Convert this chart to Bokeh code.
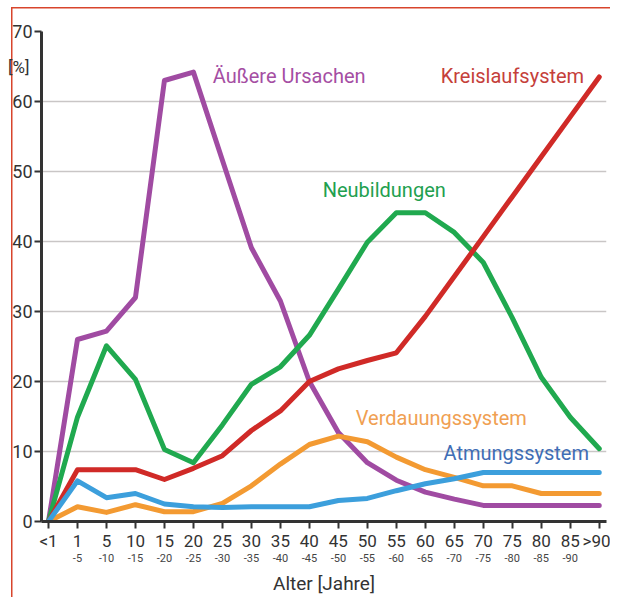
from bokeh.plotting import figure
from bokeh.models import Range1d, LinearAxis, FixedTicker, Label
from bokeh.embed import file_html
from bokeh.resources import INLINE

# ---- data -------------------------------------------------------------
categories = ["<1", "1", "5", "10", "15", "20", "25", "30", "35", "40",
              "45", "50", "55", "60", "65", "70", "75", "80", "85", ">90"]
sub_labels = ["", "-5", "-10", "-15", "-20", "-25", "-30", "-35", "-40", "-45",
              "-50", "-55", "-60", "-65", "-70", "-75", "-80", "-85", "-90", ""]

aeussere_ursachen = [0, 26, 27.2, 32, 63, 64.2, 51.6, 39.1, 31.5, 20,
                     12.7, 8.4, 5.9, 4.2, 3.2, 2.3, 2.3, 2.3, 2.3, 2.3]
neubildungen = [0, 14.9, 25.1, 20.3, 10.3, 8.4, 13.8, 19.6, 22.1, 26.6,
                33.2, 39.9, 44.1, 44.1, 41.3, 37, 29.1, 20.6, 14.9, 10.4]
kreislaufsystem = [0, 7.4, 7.4, 7.4, 6.0, 7.6, 9.4, 13, 15.8, 20,
                   21.8, 23, 24.1, 29.3, 35, 40.7, 46.4, 52.1, 57.8, 63.5]
verdauungssystem = [0, 2.1, 1.3, 2.4, 1.4, 1.4, 2.6, 5.1, 8.2, 11,
                    12.2, 11.4, 9.2, 7.4, 6.3, 5.1, 5.1, 4.0, 4.0, 4.0]
atmungssystem = [0, 5.8, 3.4, 4.0, 2.5, 2.1, 2.0, 2.1, 2.1, 2.1,
                 3.0, 3.3, 4.4, 5.4, 6.1, 7.0, 7.0, 7.0, 7.0, 7.0]

y_ticks = [0, 10, 20, 30, 40, 50, 60, 70]
unit_tick = [65]
unit_text = "[%]"

series = [
    ("Äußere Ursachen", aeussere_ursachen, "#a04ba2", "#a54ea3", 5.67, 63.7),
    ("Neubildungen", neubildungen, "#20a94f", "#22a04f", 9.46, 47.4),
    ("Kreislaufsystem", kreislaufsystem, "#d02a27", "#c5403a", 13.53, 63.7),
    ("Verdauungssystem", verdauungssystem, "#f39a32", "#f0a052", 10.6, 14.8),
    ("Atmungssystem", atmungssystem, "#3c9fdc", "#3f6db5", 13.63, 9.8),
]

FONT = "Roboto"
DARK = "#333333"

x = list(range(len(categories)))

p = figure(frame_width=565, frame_height=490,
           min_border_left=41, min_border_top=31, min_border_right=4,
           min_border_bottom=60,
           x_range=Range1d(-0.241, 19.25), y_range=Range1d(0, 70),
           output_backend="svg", toolbar_location=None,
           border_fill_color=None, background_fill_color="white",
           outline_line_color=None,
           styles={"background":
                   "linear-gradient(#d8452c,#d8452c) 11px 7px/1.5px 100% no-repeat,"
                   "linear-gradient(#d8452c,#d8452c) 11px 7px/100% 1.5px no-repeat"})

# grid
p.xgrid.visible = False
p.ygrid.ticker = FixedTicker(ticks=y_ticks[1:])
p.ygrid.grid_line_color = "#c9c6c6"
p.ygrid.grid_line_width = 1.5

# y axis
ya = p.yaxis[0]
ya.ticker = FixedTicker(ticks=y_ticks)
ya.axis_line_color = DARK
ya.axis_line_width = 3
ya.major_tick_line_color = DARK
ya.major_tick_line_width = 2
ya.major_tick_out = 7
ya.major_tick_in = 0
ya.minor_tick_line_color = None
ya.major_label_text_font = FONT
ya.major_label_text_font_size = "18px"
ya.major_label_text_color = DARK
ya.major_label_standoff = 2

# y unit "[%]" as a second, tick-less left axis
yu = LinearAxis(ticker=FixedTicker(ticks=unit_tick),
                major_label_overrides={unit_tick[0]: unit_text})
yu.axis_line_color = None
yu.major_tick_line_color = None
yu.minor_tick_line_color = None
yu.major_tick_out = 0
yu.major_tick_in = 0
yu.major_label_standoff = -20
yu.major_label_text_font = FONT
yu.major_label_text_font_size = "17px"
yu.major_label_text_color = DARK
p.add_layout(yu, "left")

# x axis (main labels)
xa = p.xaxis[0]
xa.ticker = FixedTicker(ticks=x)
xa.major_label_overrides = {i: c for i, c in zip(x, categories)}
xa.axis_line_color = DARK
xa.axis_line_width = 3
xa.major_tick_line_color = DARK
xa.major_tick_line_width = 2
xa.major_tick_out = 7
xa.major_tick_in = 0
xa.minor_tick_line_color = None
xa.major_label_text_font = FONT
xa.major_label_text_font_size = "17px"
xa.major_label_text_color = DARK
xa.major_label_standoff = 2

# x axis (sub labels + title)
xb = LinearAxis(ticker=FixedTicker(ticks=x),
                major_label_overrides={i: s for i, s in zip(x, sub_labels)})
xb.axis_line_color = None
xb.major_tick_line_color = None
xb.minor_tick_line_color = None
xb.major_tick_out = 0
xb.major_tick_in = 0
xb.major_label_standoff = 0
xb.major_label_text_font = FONT
xb.major_label_text_font_size = "11px"
xb.major_label_text_color = "#444444"
xb.axis_label = "Alter [Jahre]"
xb.axis_label_text_font = FONT
xb.axis_label_text_font_size = "19px"
xb.axis_label_text_font_style = "normal"
xb.axis_label_text_color = DARK
xb.axis_label_standoff = 7
p.add_layout(xb, "below")

# lines
for name, vals, lc, tc, lx, ly in series:
    p.line(x, vals, line_color=lc, line_width=5, line_join="round", line_cap="round")

for name, vals, lc, tc, lx, ly in series:
    p.add_layout(Label(x=lx, y=ly, text=name, text_font=FONT, text_font_size="20px",
                       text_color=tc, text_align="left", text_baseline="middle"))

open("out.html", "w").write(file_html(p, INLINE))
